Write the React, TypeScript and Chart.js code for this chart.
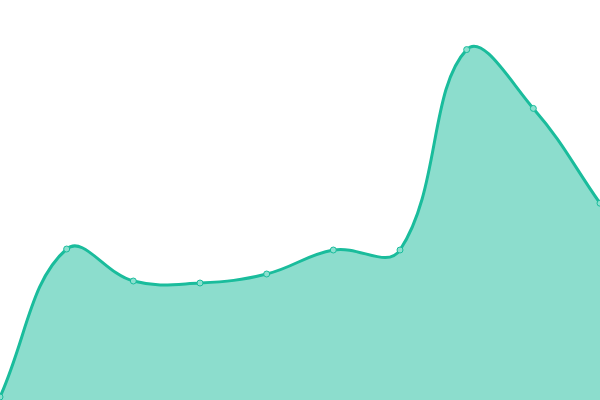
import React, { useEffect, useRef } from 'react';
import Chart from 'chart.js/auto';

const labels = ['1', '2', '3', '4', '5', '6', '7', '8', '9', '10'];
const values = [0.75, 37.75, 29.75, 29.25, 31.5, 37.5, 37.5, 87.6, 72.9, 49.2];

const lineColor = 'rgb(26, 188, 156)';
const fillColor = 'rgba(26, 188, 156, 0.5)';

const App: React.FC = () => {
  const chartRef = useRef<HTMLCanvasElement | null>(null);

  useEffect(() => {
    if (!chartRef.current) return;
    const chart = new Chart(chartRef.current, {
      type: 'line',
      data: {
        labels,
        datasets: [{
          data: values,
          borderColor: lineColor,
          backgroundColor: fillColor,
          borderWidth: 3,
          fill: true,
          tension: 0.4,
          pointRadius: 3,
          pointBorderWidth: 1,
          pointBackgroundColor: 'rgba(140, 224, 207, 1)',
          pointBorderColor: lineColor
        }]
      },
      options: {
        animation: false,
        responsive: true,
        maintainAspectRatio: false,
        layout: { padding: 0, autoPadding: false },
        plugins: {
          legend: { display: false },
          tooltip: { enabled: false }
        },
        scales: {
          x: { display: false },
          y: { display: false, min: 0, max: 100 }
        }
      }
    });
    return () => chart.destroy();
  }, []);

  return (
    <div style={{ position: 'fixed', left: 0, top: 0, width: 600, height: 400 }}>
      <canvas ref={chartRef} />
    </div>
  );
};

export default App;
